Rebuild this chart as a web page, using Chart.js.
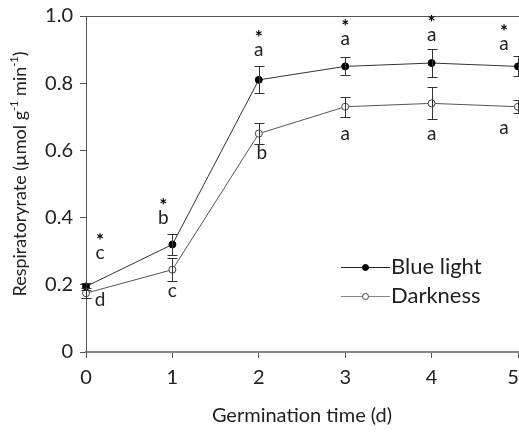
<!DOCTYPE html>
<html><head><meta charset="utf-8">
<script src="https://cdn.jsdelivr.net/npm/chart.js@4"></script>
<style>html,body{margin:0;padding:0;background:#fff}#wrap{width:519px;height:432px}</style>
</head><body><div id="wrap"><canvas id="c" width="519" height="432"></canvas></div>
<script>
const days = [0, 1, 2, 3, 4, 5];
const blueLight = [0.195, 0.32, 0.81, 0.85, 0.86, 0.85];
const blueErr = [0.01, 0.03, 0.04, 0.027, 0.042, 0.03];
const darkness = [0.175, 0.245, 0.65, 0.73, 0.74, 0.73];
const darkErr = [0.015, 0.035, 0.032, 0.03, 0.048, 0.02];
const stars = ['*', '*', '*', '*', '*', '*'];
const blueLetters = ['c', 'b', 'a', 'a', 'a', 'a'];
const darkLetters = ['d', 'c', 'b', 'a', 'a', 'a'];
const xTickLabels = ['0', '1', '2', '3', '4', '5\u2002'];
const yTicks = [0, 0.2, 0.4, 0.6, 0.8, 1.0];
const seriesNames = ['Blue light', 'Darkness'];
const xTitle = 'Germination time (d)';
const yTitleParts = [['Respiratoryrate (µmol g', false], ['-1', true], [' min', false], ['-1', true], [')', false]];

// styling (pixel offsets for annotation text)
const blueDx = [14, -9, 0, 0, 0, -14];
const blueGap = [30, 17, 17, 18, 14, 12];
const darkDx = [14, 0, 3, 0, 0, -14];
const darkGap = [2, 9, 9, 17, 14, 14];

const FONT = 'Lato, "Liberation Sans", sans-serif';
const TXT = '#222';

const errPlugin = {
  id: 'err',
  afterDatasetsDraw(chart) {
    const ctx = chart.ctx, xs = chart.scales.x, ys = chart.scales.y;
    const sets = [[blueLight, blueErr], [darkness, darkErr]];
    ctx.save();
    ctx.strokeStyle = '#333'; ctx.lineWidth = 1;
    sets.forEach(([vals, errs]) => {
      vals.forEach((v, i) => {
        const x = Math.round(xs.getPixelForValue(days[i])) + 0.5;
        const yt = Math.round(ys.getPixelForValue(v + errs[i])) + 0.5;
        const yb = Math.round(ys.getPixelForValue(v - errs[i])) + 0.5;
        ctx.beginPath();
        ctx.moveTo(x, yt); ctx.lineTo(x, yb);
        ctx.moveTo(x - 5, yt); ctx.lineTo(x + 5, yt);
        ctx.moveTo(x - 5, yb); ctx.lineTo(x + 5, yb);
        ctx.stroke();
      });
    });
    ctx.restore();
  }
};

const annPlugin = {
  id: 'ann',
  afterDraw(chart) {
    const ctx = chart.ctx, xs = chart.scales.x, ys = chart.scales.y, a = chart.chartArea;
    ctx.save();
    // top border
    ctx.strokeStyle = '#555'; ctx.lineWidth = 1;
    ctx.beginPath(); ctx.moveTo(a.left, a.top + 0.5); ctx.lineTo(chart.width, a.top + 0.5); ctx.stroke();
    days.forEach((d, i) => {
      const x = xs.getPixelForValue(d);
      const yTop = ys.getPixelForValue(blueLight[i] + blueErr[i]) - blueGap[i];
      ctx.fillStyle = TXT; ctx.textAlign = 'center';
      ctx.font = '19px ' + FONT; ctx.textBaseline = 'middle';
      ctx.fillText(blueLetters[i], x + blueDx[i], yTop);
      ctx.fillStyle = '#000';
      ctx.font = 'bold 19px ' + FONT;
      ctx.fillText(stars[i], x + blueDx[i], yTop - 12);
      const yBot = ys.getPixelForValue(darkness[i] - darkErr[i]) + darkGap[i];
      ctx.fillStyle = TXT;
      ctx.font = '19px ' + FONT;
      ctx.fillText(darkLetters[i], x + darkDx[i], yBot);
    });
    // legend
    const meta = chart.data.datasets;
    const lx0 = 341, lx1 = 390, ly = [267, 296];
    const legLine = ['#222', '#888'];
    meta.forEach((ds, i) => {
      ctx.strokeStyle = legLine[i]; ctx.lineWidth = 1;
      ctx.beginPath(); ctx.moveTo(lx0, ly[i] + 0.5); ctx.lineTo(lx1, ly[i] + 0.5); ctx.stroke();
      ctx.beginPath(); ctx.arc((lx0 + lx1) / 2, ly[i] + 0.5, 3, 0, Math.PI * 2);
      ctx.fillStyle = ds.pointBackgroundColor; ctx.fill();
      ctx.strokeStyle = ds.pointBorderColor; ctx.stroke();
      ctx.fillStyle = TXT; ctx.font = '22px ' + FONT; ctx.textAlign = 'left'; ctx.textBaseline = 'middle';
      ctx.fillText(ds.label, lx1 + 1, ly[i]);
    });
    // y title (with superscripts)
    ctx.save();
    ctx.translate(20, 174);
    ctx.rotate(-Math.PI / 2);
    ctx.fillStyle = TXT; ctx.textBaseline = 'middle'; ctx.textAlign = 'left';
    let w = 0;
    yTitleParts.forEach(([t, sup]) => { ctx.font = (sup ? '11px ' : '18px ') + FONT; w += ctx.measureText(t).width; });
    let px = -w / 2;
    yTitleParts.forEach(([t, sup]) => {
      ctx.font = (sup ? '11px ' : '18px ') + FONT;
      ctx.fillText(t, px, sup ? -6 : 0);
      px += ctx.measureText(t).width;
    });
    ctx.restore();
    ctx.restore();
  }
};

new Chart(document.getElementById('c'), {
  type: 'line',
  data: {
    datasets: [
      { label: seriesNames[0], data: days.map((d, i) => ({ x: d, y: blueLight[i] })),
        borderColor: '#333', borderWidth: 1, pointRadius: 3.5, pointBackgroundColor: '#000', pointBorderColor: '#000',
        pointBorderWidth: 1, tension: 0, clip: false },
      { label: seriesNames[1], data: days.map((d, i) => ({ x: d, y: darkness[i] })),
        borderColor: '#555', borderWidth: 1, pointRadius: 3.5, pointBackgroundColor: '#fff', pointBorderColor: '#444',
        pointBorderWidth: 1, tension: 0, clip: false }
    ]
  },
  options: {
    responsive: false, animation: false, devicePixelRatio: 1,
    layout: { autoPadding: false, padding: { top: 16, right: 1, left: 0, bottom: 0 } },
    plugins: { legend: { display: false }, tooltip: { enabled: false } },
    scales: {
      x: {
        type: 'linear', min: 0, max: 5,
        afterFit(s) { s.height = 80; s.paddingLeft = 0; s.paddingRight = 0; },
        afterBuildTicks(s) { s.ticks = days.map(v => ({ value: v })); },
        grid: { drawOnChartArea: false, drawTicks: true, tickLength: 6, color: '#555' },
        border: { display: true, color: '#888', width: 2 },
        ticks: { color: TXT, font: { size: 20, family: FONT }, padding: 8, maxRotation: 0,
          callback: (v, i) => xTickLabels[i] },
        title: { display: true, text: xTitle, color: TXT, font: { size: 20, family: FONT }, padding: { top: 4 } }
      },
      y: {
        min: 0, max: 1,
        afterFit(s) { s.width = 86; s.paddingTop = 0; s.paddingBottom = 0; },
        afterBuildTicks(s) { s.ticks = yTicks.map(v => ({ value: v })); },
        grid: { drawOnChartArea: false, drawTicks: true, tickLength: 6, color: '#555' },
        border: { display: true, color: '#555', width: 1 },
        ticks: { color: TXT, font: { size: 20, family: FONT }, padding: 7,
          callback: v => v === 0 ? '0' : v.toFixed(1) },
        title: { display: false }
      }
    }
  },
  plugins: [errPlugin, annPlugin]
});
</script></body></html>
